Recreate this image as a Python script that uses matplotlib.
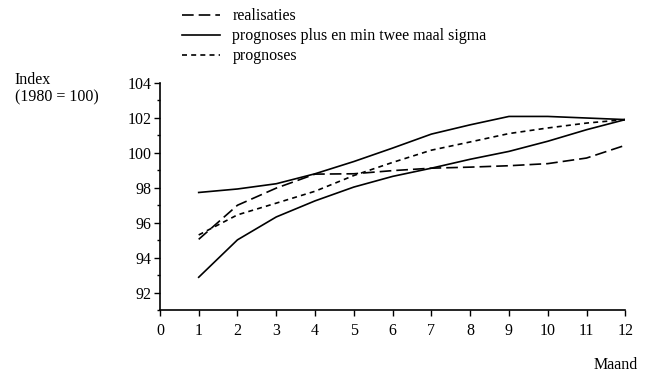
import matplotlib
matplotlib.use("Agg")
from matplotlib import pyplot as plt
from matplotlib.ticker import MultipleLocator

# maand 1..12, index (1980 = 100)
maand = [1, 2, 3, 4, 5, 6, 7, 8, 9, 10, 11, 12]
realisaties = [95.05, 97.0, 97.98, 98.78, 98.8, 98.98, 99.12, 99.18, 99.26, 99.38, 99.7, 100.43]
prognoses = [95.3, 96.45, 97.12, 97.8, 98.7, 99.45, 100.15, 100.62, 101.1, 101.42, 101.7, 101.9]
bovengrens = [97.73, 97.93, 98.23, 98.8, 99.5, 100.27, 101.07, 101.6, 102.08, 102.08, 101.99, 101.9]
ondergrens = [92.88, 95.02, 96.33, 97.25, 98.04, 98.65, 99.12, 99.63, 100.08, 100.66, 101.32, 101.9]

x_ticks = list(range(0, 13))
y_ticks = [92, 94, 96, 98, 100, 102, 104]

plt.rcParams['font.family'] = ['Liberation Serif', 'DejaVu Serif']
fs = 11.5

fig = plt.figure(figsize=(6.5, 3.75), dpi=100)
ax = fig.add_axes([0.246, 0.173, 0.716, 0.606])

lw = 1.2
ax.plot(maand, realisaties, color='black', lw=lw, dashes=(7, 3), label='realisaties')
ax.plot(maand, bovengrens, color='black', lw=lw, label='prognoses plus en min twee maal sigma')
ax.plot(maand, ondergrens, color='black', lw=lw)
ax.plot(maand, prognoses, color='black', lw=lw, dashes=(3, 2.5), label='prognoses')

ax.set_xlim(0, 12)
ax.set_ylim(91.0, 104)
ax.set_xticks(x_ticks)
ax.set_yticks(y_ticks)
ax.yaxis.set_minor_locator(MultipleLocator(1))

for side in ['top', 'right']:
    ax.spines[side].set_visible(False)
for side in ['left', 'bottom']:
    ax.spines[side].set_linewidth(1.2)
ax.tick_params(which='major', length=4, width=1, labelsize=fs, pad=2)
ax.tick_params(which='minor', length=2.5, width=1)
ax.tick_params(axis='x', pad=5)

ax.legend(loc='upper left', bbox_to_anchor=(0.28, 0.978), bbox_transform=fig.transFigure,
          frameon=False, handlelength=2.4, handletextpad=0.75, labelspacing=0.25,
          fontsize=fs, borderaxespad=0, borderpad=0)

fig.text(0.023, 0.763, 'Index\n(1980 = 100)', ha='left', va='center', fontsize=fs, linespacing=1.1)
fig.text(0.982, 0.026, 'Maand', ha='right', va='center', fontsize=fs)

fig.savefig('out.png', dpi=100)
